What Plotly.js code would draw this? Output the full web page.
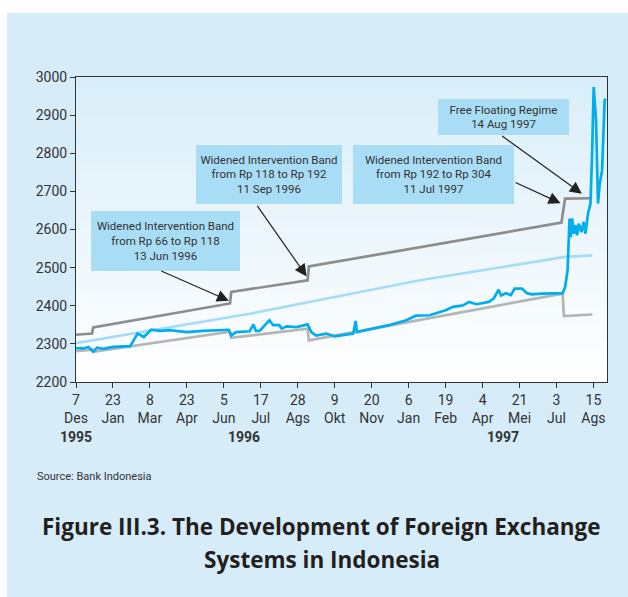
<!DOCTYPE html>
<html>
<head>
<meta charset="utf-8">
<script src="https://cdn.plot.ly/plotly-3.0.1.min.js"></script>
<style>
  html, body { margin: 0; padding: 0; background: #ffffff; }
  #chart { position: absolute; left: 7px; top: 13px; width: 621px; height: 584px; }
</style>
</head>
<body>
<div id="chart"></div>
<script>
// x is the trading-day index from 7 Dec 1995; a tick label every 30 trading days
const tickDays = [0, 30, 60, 90, 120, 150, 180, 210, 240, 270, 300, 330, 360, 390, 420];
const tickDates = ["7", "23", "8", "23", "5", "17", "28", "9", "20", "6", "19", "4", "21", "3", "15"];
const tickMonths = ["Des", "Jan", "Mar", "Apr", "Jun", "Jul", "Ags", "Okt", "Nov", "Jan", "Feb", "Apr", "Mei", "Jul", "Ags"];

// Rp per USD
const spotDays = [0, 6, 10, 14, 17, 22, 30, 44, 50, 55, 61, 68, 76, 90, 103, 117, 124, 126, 130, 141,
  144, 146, 149, 157, 160, 165, 167, 171, 179, 188, 191, 195, 203, 210, 225, 227, 228, 241, 254, 268,
  276, 287, 300, 306, 314, 319, 325, 335, 339, 343, 345, 349, 353, 356, 362, 366, 370, 378, 389, 395,
  397, 399, 400.6, 401.6, 402.7, 404, 405.4, 406.7, 408.1, 410.3, 412.1, 413.5, 415.6, 417.6, 418.9,
  420.2, 422.1, 423.7, 425.1, 427, 429.1, 430];
const spotRate = [2289, 2288, 2292, 2280, 2290, 2287, 2292, 2294, 2327, 2318, 2337, 2334, 2336, 2331, 2334, 2336, 2337, 2322, 2331, 2333,
  2351, 2334, 2334, 2362, 2349, 2349, 2340, 2346, 2344, 2351, 2331, 2322, 2327, 2320, 2327, 2360, 2331, 2340, 2349, 2362,
  2374, 2375, 2388, 2397, 2401, 2410, 2404, 2410, 2419, 2442, 2427, 2433, 2428, 2445, 2445, 2433, 2430, 2432, 2433, 2433,
  2449, 2493, 2629, 2580, 2629, 2589, 2611, 2585, 2615, 2593, 2620, 2589, 2642, 2668, 2799,
  2974, 2886, 2668, 2720, 2755, 2939, 2943];

const upperDays = [0, 13, 14, 125, 126, 188, 189, 394, 397, 419];
const upperBand = [2324, 2327, 2343, 2406, 2436, 2467, 2503, 2618, 2681, 2682];

const lowerDays = [0, 13, 14, 125, 126, 188, 189, 395, 396, 419];
const lowerBand = [2281, 2285, 2279, 2332, 2316, 2340, 2309, 2432, 2373, 2377];

const centralDays = [0, 141, 279, 397, 419];
const centralRate = [2302, 2379, 2467, 2528, 2532];

const TEXT = "#333333";
const FONT = "Roboto, 'Open Sans', sans-serif";
const TITLE_FONT = "'Open Sans', Roboto, sans-serif";

function gradientImage() {
  const canvas = document.createElement("canvas");
  canvas.width = 2;
  canvas.height = 200;
  const ctx = canvas.getContext("2d");
  const grad = ctx.createLinearGradient(0, 0, 0, 200);
  grad.addColorStop(0, "#d9eef9");
  grad.addColorStop(1, "#ffffff");
  ctx.fillStyle = grad;
  ctx.fillRect(0, 0, 2, 200);
  return canvas.toDataURL("image/png");
}

function lineTrace(x, y, color) {
  return {
    x, y,
    type: "scatter",
    mode: "lines",
    line: { color, width: 2.7 },
    hoverinfo: "skip",
    showlegend: false,
  };
}

const traces = [
  lineTrace(lowerDays, lowerBand, "#b5b5b5"),
  lineTrace(centralDays, centralRate, "#a6dcf6"),
  lineTrace(upperDays, upperBand, "#8d8d8d"),
  lineTrace(spotDays, spotRate, "#00aeef"),
];

function box(x, y, w, h, text) {
  return {
    x, y, xref: "x", yref: "y",
    text, showarrow: false,
    width: w, height: h,
    bgcolor: "#a9ddf6",
    borderpad: 0, borderwidth: 0,
    font: { family: FONT, size: 11.5, color: TEXT },
  };
}

function arrow(x, y, ax, ay) {
  return {
    x, y, ax, ay, xref: "x", yref: "y", axref: "x", ayref: "y",
    text: "", showarrow: true,
    arrowhead: 2, arrowsize: 2, arrowwidth: 1.2, arrowcolor: "#222222",
    standoff: 0, startstandoff: 0,
  };
}

function paperText(x, y, text, size, bold, xanchor, family, color) {
  return {
    x, y, xref: "paper", yref: "paper",
    text: bold ? `<b>${text}</b>` : text,
    showarrow: false,
    xanchor: xanchor || "center", yanchor: "middle",
    font: { family: family || FONT, size, color: color || TEXT },
  };
}

const annotations = [
  box(72.5, 2569, 149, 60, "Widened Intervention Band<br>from Rp 66 to Rp 118<br>13 Jun 1996"),
  box(156.3, 2743.5, 146, 59, "Widened Intervention Band<br>from Rp 118 to Rp 192<br>11 Sep 1996"),
  box(290.3, 2743.5, 161, 59, "Widened Intervention Band<br>from Rp 192 to Rp 304<br>11 Jul 1997"),
  box(347, 2894, 131, 36, "Free Floating Regime<br>14 Aug 1997"),
  arrow(124.1, 2413, 68, 2493),
  arrow(187.2, 2477, 146.3, 2666),
  arrow(393.3, 2669, 355.5, 2725),
  arrow(410.6, 2694, 344.7, 2848),
  paperText(0.0, -0.181, "1995", 14, true),
  paperText(0.316, -0.181, "1996", 14, true),
  paperText(0.804, -0.181, "1997", 14, true),
  paperText(-0.077, -0.309, "Source: Bank Indonesia", 11, false, "left"),
  paperText(0.463, -0.475, "Figure III.3. The Development of Foreign Exchange", 22.5, true, "center", TITLE_FONT, "#231f20"),
  paperText(0.463, -0.582, "Systems in Indonesia", 22.5, true, "center", TITLE_FONT, "#231f20"),
];

const layout = {
  width: 621,
  height: 584,
  margin: { l: 69, r: 21, t: 64, b: 215 },
  paper_bgcolor: "#d6ecf9",
  plot_bgcolor: "#ffffff",
  font: { family: FONT, size: 14, color: TEXT },
  showlegend: false,
  xaxis: {
    range: [0, 431],
    tickvals: tickDays,
    ticktext: tickDates.map((d, i) => `${d}<br>${tickMonths[i]}`),
    ticks: "outside", ticklen: 5, tickcolor: "#333333",
    showline: true, linecolor: "#333333", linewidth: 1, mirror: true,
    showgrid: false, zeroline: false,
    tickfont: { family: FONT, size: 14, color: TEXT },
  },
  yaxis: {
    range: [2200, 3000],
    tickvals: [2200, 2300, 2400, 2500, 2600, 2700, 2800, 2900, 3000],
    ticks: "outside", ticklen: 5, tickcolor: "#333333",
    showline: true, linecolor: "#333333", linewidth: 1, mirror: true,
    showgrid: false, zeroline: false,
    tickfont: { family: FONT, size: 14, color: TEXT },
  },
  images: [{
    source: gradientImage(),
    xref: "paper", yref: "paper",
    x: 0, y: 1, sizex: 1, sizey: 1,
    xanchor: "left", yanchor: "top",
    sizing: "stretch", layer: "below",
  }],
  annotations,
};

Plotly.newPlot("chart", traces, layout, { displayModeBar: false, staticPlot: true });
</script>
</body>
</html>
